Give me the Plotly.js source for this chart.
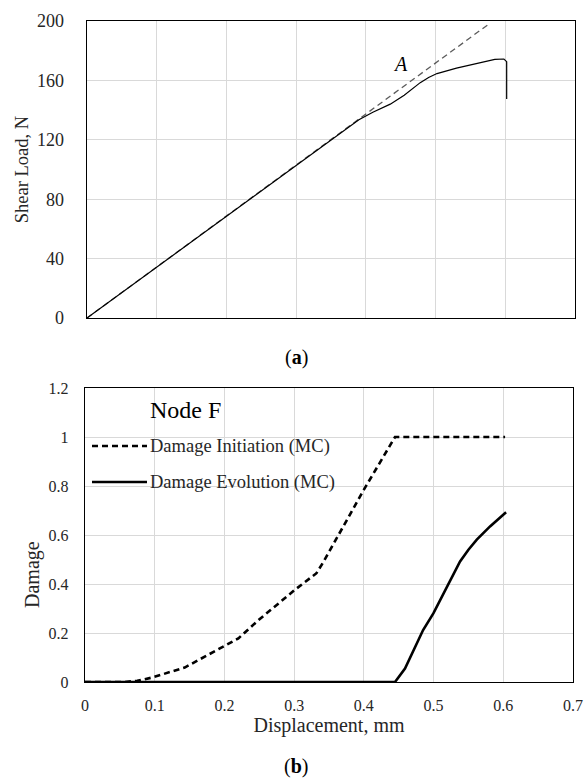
<!DOCTYPE html>
<html><head><meta charset="utf-8">
<script src="https://cdn.plot.ly/plotly-3.0.1.min.js"></script>
<style>html,body{margin:0;padding:0;background:#fff}#chart{width:584px;height:783px}</style>
</head><body><div id="chart"></div>
<script>
// ---- (a) Shear load vs displacement ----
const refDisp = [0, 0.578];
const refLoad = [0, 198.5];
const loadDisp = [0, 0.1, 0.2, 0.3, 0.35, 0.37, 0.39, 0.41, 0.435, 0.455, 0.478, 0.49, 0.502, 0.53, 0.5735, 0.585, 0.598, 0.602, 0.602];
const loadVal  = [0, 34.3, 68.6, 102.9, 120, 127, 133.5, 138.5, 144, 150, 158.5, 162, 164.6, 168.3, 172.6, 174.2, 174.4, 172.6, 147.5];
const loadTicks = [0, 40, 80, 120, 160, 200];
const pointA = {x: 0.449, y: 170.8, label: 'A'};

// ---- (b) Damage vs displacement ----
const initDisp = [0, 0.057, 0.075, 0.096, 0.143, 0.201, 0.22, 0.249, 0.301, 0.332, 0.342, 0.399, 0.4447, 0.6026];
const initDmg  = [0, 0, 0.005, 0.018, 0.059, 0.150, 0.178, 0.253, 0.376, 0.444, 0.49, 0.78, 1.0, 1.0];
const evoDisp  = [0, 0.4447, 0.459, 0.472, 0.485, 0.4997, 0.519, 0.538, 0.55, 0.562, 0.581, 0.604];
const evoDmg   = [0, 0, 0.055, 0.135, 0.212, 0.28, 0.389, 0.492, 0.54, 0.581, 0.635, 0.693];
const dispTicks = [0, 0.1, 0.2, 0.3, 0.4, 0.5, 0.6, 0.7];
const damageTicks = [0, 0.2, 0.4, 0.6, 0.8, 1, 1.2];
const legendTitle = 'Node F';
const seriesNames = ['Damage Initiation (MC)', 'Damage Evolution (MC)'];

const W = 584, H = 783;
const px = v => v / W;
const py = v => 1 - v / H;
const serif = 'Liberation Serif, Times New Roman, serif';
const tickCol = '#262626';
const grid = '#d9d9d9';

const traces = [
  {x: refDisp, y: refLoad, xaxis: 'x', yaxis: 'y', mode: 'lines', name: 'Linear',
   line: {color: '#5a5a5a', width: 1.3, dash: '6px,4px'}, showlegend: false},
  {x: loadDisp, y: loadVal, xaxis: 'x', yaxis: 'y', mode: 'lines', name: 'Shear load',
   line: {color: '#000', width: 1.2}, showlegend: false},
  {x: initDisp, y: initDmg, xaxis: 'x2', yaxis: 'y2', mode: 'lines', name: seriesNames[0],
   line: {color: '#000', width: 2.6, dash: '6px,4px'}, showlegend: false},
  {x: evoDisp, y: evoDmg, xaxis: 'x2', yaxis: 'y2', mode: 'lines', name: seriesNames[1],
   line: {color: '#000', width: 2.6}, showlegend: false}
];

const axCommon = {showgrid: true, gridcolor: grid, gridwidth: 1, zeroline: false,
  showline: true, mirror: true, linecolor: '#000', linewidth: 1.3, ticks: ''};

const ann = (x, y, text, size, extra) => Object.assign({x: px(x), y: py(y), xref: 'paper', yref: 'paper',
  text: text, showarrow: false, xanchor: 'center', yanchor: 'middle',
  font: {size: size, family: serif, color: tickCol}}, extra || {});

const layout = {
  width: W, height: H, margin: {l: 0, r: 0, t: 0, b: 0},
  paper_bgcolor: '#fff', plot_bgcolor: '#fff', showlegend: false,
  font: {family: serif, color: tickCol},
  xaxis: Object.assign({}, axCommon, {domain: [px(87), px(575)], range: [0, 0.7],
    tickvals: dispTicks, showticklabels: false, anchor: 'y'}),
  yaxis: Object.assign({}, axCommon, {domain: [py(318), py(21)], range: [0, 200],
    tickvals: loadTicks, tickfont: {size: 18, family: serif, color: tickCol},
    ticklabelstandoff: 18, anchor: 'x',
    title: {text: 'Shear Load, N', font: {size: 18.5, family: serif, color: tickCol}, standoff: 3}}),
  xaxis2: Object.assign({}, axCommon, {domain: [px(85), px(573)], range: [0, 0.7],
    tickvals: dispTicks, tickfont: {size: 16, family: serif, color: tickCol},
    ticklabelstandoff: 8, anchor: 'y2',
    title: {text: 'Displacement, mm', font: {size: 20, family: serif, color: tickCol}, standoff: 5}}),
  yaxis2: Object.assign({}, axCommon, {domain: [py(682), py(388)], range: [0, 1.2],
    tickvals: damageTicks, tickfont: {size: 16, family: serif, color: tickCol},
    ticklabelstandoff: 12, anchor: 'x2'}),
  shapes: [
    {type: 'line', xref: 'paper', yref: 'paper', x0: px(92), x1: px(147), y0: py(446), y1: py(446),
     line: {color: '#000', width: 2.6, dash: '6px,4px'}},
    {type: 'line', xref: 'paper', yref: 'paper', x0: px(92), x1: px(147), y0: py(482), y1: py(482),
     line: {color: '#000', width: 2.6}}
  ],
  annotations: [
    {x: pointA.x, y: pointA.y, xref: 'x', yref: 'y', text: '<i>' + pointA.label + '</i>', showarrow: false,
     xanchor: 'center', yanchor: 'middle', font: {size: 20, family: serif, color: '#000'}},
    ann(32, 575, 'Damage', 20, {textangle: -90}),
    ann(148, 410, legendTitle, 24, {xanchor: 'left', font: {size: 24, family: serif, color: '#000'}}),
    ann(148, 446, seriesNames[0], 18.5, {xanchor: 'left'}),
    ann(148, 482, seriesNames[1], 18.5, {xanchor: 'left'}),
    ann(296, 357, '(<b>a</b>)', 20, {font: {size: 20, family: serif, color: '#000'}}),
    ann(296, 766, '(<b>b</b>)', 20, {font: {size: 20, family: serif, color: '#000'}})
  ]
};

Plotly.newPlot('chart', traces, layout, {displayModeBar: false, staticPlot: true});
</script>
</body></html>
